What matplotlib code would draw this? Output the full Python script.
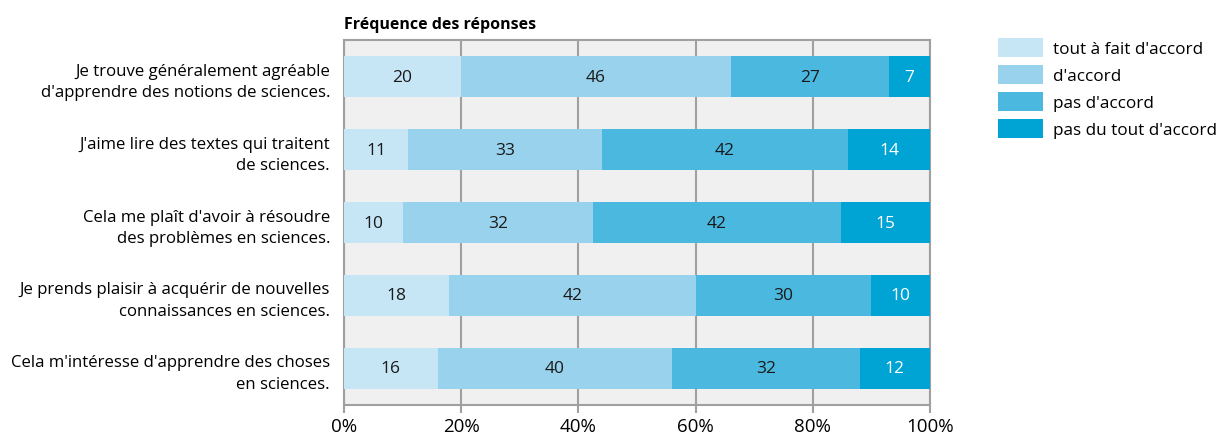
import numpy as np
import matplotlib
matplotlib.use("Agg")
import matplotlib.pyplot as plt
from matplotlib.patches import Patch

plt.rcParams['font.family'] = ['Open Sans', 'DejaVu Sans']

questions = [
    "Je trouve généralement agréable\nd'apprendre des notions de sciences.",
    "J'aime lire des textes qui traitent\nde sciences.",
    "Cela me plaît d'avoir à résoudre\ndes problèmes en sciences.",
    "Je prends plaisir à acquérir de nouvelles\nconnaissances en sciences.",
    "Cela m'intéresse d'apprendre des choses\nen sciences.",
]
categories = ["tout à fait d'accord", "d'accord", "pas d'accord", "pas du tout d'accord"]
tout_a_fait = [20, 11, 10, 18, 16]
accord = [46, 33, 32, 42, 40]
pas_accord = [27, 42, 42, 30, 32]
pas_du_tout = [7, 14, 15, 10, 12]
xticks = [0, 20, 40, 60, 80, 100]

colors = ["#c6e6f6", "#99d2ec", "#4bb8df", "#00a4d4"]
text_colors = ["#1a1a1a", "#1a1a1a", "#1a1a1a", "white"]

data = np.array([tout_a_fait, accord, pas_accord, pas_du_tout], dtype=float)
pct = data / data.sum(axis=0) * 100

fig = plt.figure(figsize=(12.21, 4.35), dpi=100)
ax = fig.add_axes([0.2817, 0.0667, 0.48, 0.839])
ax.set_facecolor("#f0f0f0")

y = np.arange(len(questions))
left = np.zeros(len(questions))
for i in range(4):
    ax.barh(y, pct[i], left=left, height=0.55, color=colors[i], zorder=3)
    for j in range(len(questions)):
        ax.text(left[j] + pct[i][j] / 2, y[j], "%d" % data[i][j],
                ha="center", va="center", fontsize=12.5,
                color=text_colors[i], zorder=4)
    left += pct[i]

ax.set_xlim(0, 100)
ax.set_ylim(len(questions) - 0.5, -0.5)
ax.set_yticks(y)
ax.set_yticklabels(questions, fontsize=12.1, linespacing=1.45)
ax.set_xticks(xticks)
ax.set_xticklabels(["%d%%" % v for v in xticks], fontsize=13.5)
ax.tick_params(axis="y", length=0, pad=10)
ax.tick_params(axis="x", length=6, width=1.5, color="#a0a0a0", pad=3)
for lbl in ax.get_yticklabels():
    lbl.set_horizontalalignment("right")
ax.grid(axis="x", color="#a0a0a0", lw=1.5, zorder=1)
for s in ax.spines.values():
    s.set_color("#a0a0a0")
    s.set_linewidth(1.5)

fig.text(0.2817, 0.925, "Fréquence des réponses", fontsize=11.5,
         fontweight="bold", ha="left", va="bottom")

handles = [Patch(facecolor=c, edgecolor="none") for c in colors]
fig.legend(handles, categories, loc="upper left", bbox_to_anchor=(0.8175, 0.91),
           frameon=False, fontsize=12.3, handlelength=2.63, handleheight=1.35,
           labelspacing=0.45, handletextpad=0.58, borderaxespad=0, borderpad=0)

fig.savefig("out.png", dpi=100)
